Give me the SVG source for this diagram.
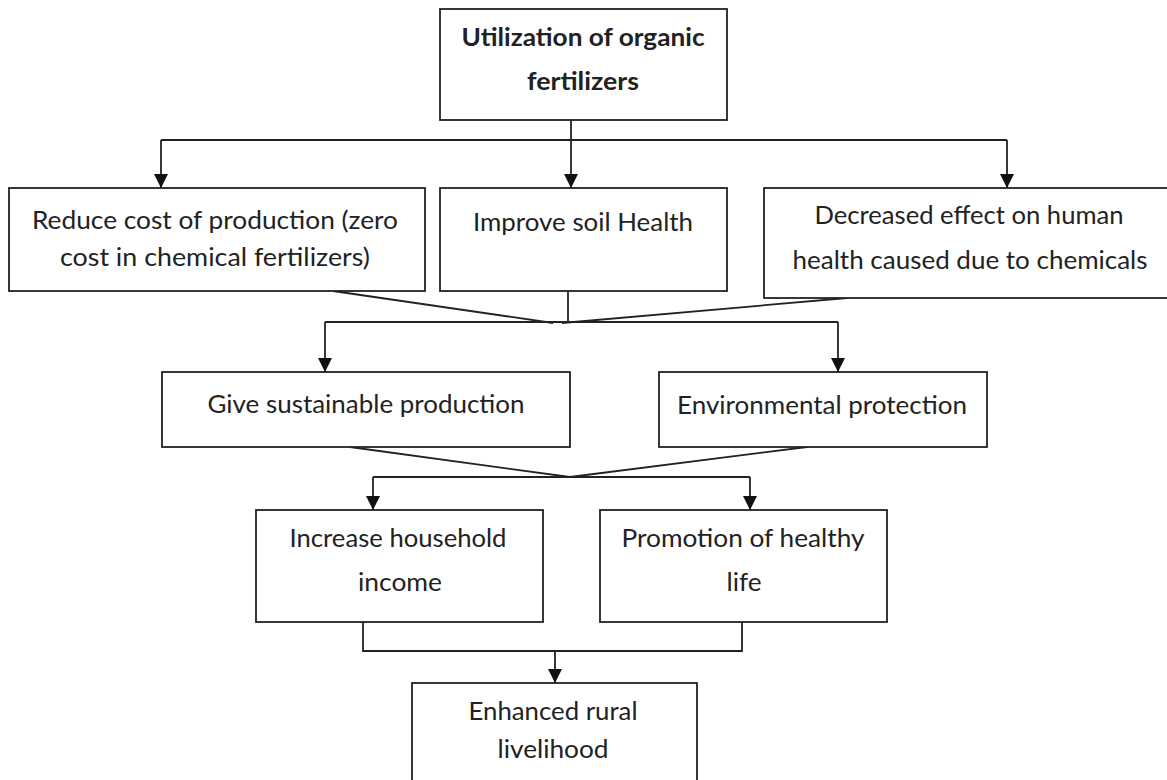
<svg xmlns="http://www.w3.org/2000/svg" width="1167" height="780" viewBox="0 0 1167 780">
<style>
.box{fill:#fff;stroke:#222;stroke-width:1.8}
.t{font-family:Lato,"Liberation Sans",sans-serif;font-size:24.5px;fill:#222;text-anchor:middle}
.b{font-weight:bold}
.c{fill:none;stroke:#222;stroke-width:1.8}
</style>
<defs>
<marker id="dn" markerUnits="userSpaceOnUse" markerWidth="14" markerHeight="14" viewBox="0 0 14 14" refX="7" refY="14" orient="0">
<path d="M0,0 L14,0 L7,14 Z" fill="#111"/>
</marker>
</defs>
<rect width="1167" height="780" fill="#fff"/>
<g id="connectors">
<line class="c" x1="571" y1="120" x2="571" y2="140"/>
<line class="c" x1="161" y1="140" x2="1007" y2="140"/>
<line class="c" x1="161" y1="140" x2="161" y2="188" marker-end="url(#dn)"/>
<line class="c" x1="571" y1="140" x2="571" y2="188" marker-end="url(#dn)"/>
<line class="c" x1="1007" y1="140" x2="1007" y2="188" marker-end="url(#dn)"/>
<line class="c" x1="333" y1="291" x2="553" y2="323"/>
<line class="c" x1="568" y1="291" x2="568" y2="323"/>
<line class="c" x1="847" y1="298" x2="562" y2="323"/>
<line class="c" x1="325" y1="322" x2="838" y2="322"/>
<line class="c" x1="325" y1="322" x2="325" y2="372" marker-end="url(#dn)"/>
<line class="c" x1="838" y1="322" x2="838" y2="372" marker-end="url(#dn)"/>
<line class="c" x1="350" y1="447" x2="570" y2="477"/>
<line class="c" x1="807" y1="447" x2="570" y2="477"/>
<line class="c" x1="373" y1="477" x2="750" y2="477"/>
<line class="c" x1="373" y1="477" x2="373" y2="510" marker-end="url(#dn)"/>
<line class="c" x1="750" y1="477" x2="750" y2="510" marker-end="url(#dn)"/>
<polyline class="c" points="363,622 363,651 742,651 742,622"/>
<line class="c" x1="555" y1="651" x2="555" y2="683" marker-end="url(#dn)"/>
</g>
<g id="n-top">
<rect class="box" x="440" y="9" width="287" height="111"/>
<text class="t b" x="583" y="46" textLength="243" lengthAdjust="spacingAndGlyphs">Utilization of organic</text>
<text class="t b" x="583" y="90" textLength="112" lengthAdjust="spacingAndGlyphs">fertilizers</text>
</g>
<g id="n-cost">
<rect class="box" x="9" y="188" width="416" height="103"/>
<text class="t" x="215" y="229" textLength="366" lengthAdjust="spacingAndGlyphs">Reduce cost of production (zero</text>
<text class="t" x="215" y="266" textLength="310" lengthAdjust="spacingAndGlyphs">cost in chemical fertilizers)</text>
</g>
<g id="n-soil">
<rect class="box" x="440" y="188" width="287" height="103"/>
<text class="t" x="583" y="231" textLength="220" lengthAdjust="spacingAndGlyphs">Improve soil Health</text>
</g>
<g id="n-human">
<rect class="box" x="764" y="188" width="410" height="110"/>
<text class="t" x="969" y="224" textLength="309" lengthAdjust="spacingAndGlyphs">Decreased effect on human</text>
<text class="t" x="970" y="269" textLength="355" lengthAdjust="spacingAndGlyphs">health caused due to chemicals</text>
</g>
<g id="n-sust">
<rect class="box" x="162" y="372" width="408" height="75"/>
<text class="t" x="366" y="413" textLength="317" lengthAdjust="spacingAndGlyphs">Give sustainable production</text>
</g>
<g id="n-env">
<rect class="box" x="659" y="372" width="328" height="75"/>
<text class="t" x="822" y="414" textLength="290" lengthAdjust="spacingAndGlyphs">Environmental protection</text>
</g>
<g id="n-income">
<rect class="box" x="256" y="510" width="287" height="112"/>
<text class="t" x="398" y="547" textLength="217" lengthAdjust="spacingAndGlyphs">Increase household</text>
<text class="t" x="400" y="591" textLength="84" lengthAdjust="spacingAndGlyphs">income</text>
</g>
<g id="n-health">
<rect class="box" x="600" y="510" width="287" height="112"/>
<text class="t" x="743" y="547" textLength="243" lengthAdjust="spacingAndGlyphs">Promotion of healthy</text>
<text class="t" x="744" y="591" textLength="35" lengthAdjust="spacingAndGlyphs">life</text>
</g>
<g id="n-rural">
<rect class="box" x="412" y="683" width="285" height="110"/>
<text class="t" x="553" y="720" textLength="169" lengthAdjust="spacingAndGlyphs">Enhanced rural</text>
<text class="t" x="553" y="758" textLength="111" lengthAdjust="spacingAndGlyphs">livelihood</text>
</g>
</svg>
